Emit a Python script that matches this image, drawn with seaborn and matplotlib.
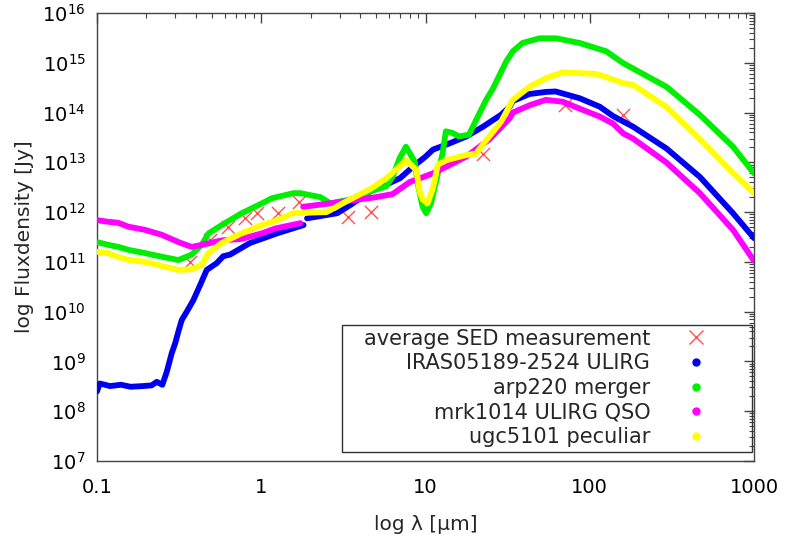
import numpy as np
import matplotlib
matplotlib.use("Agg")
import matplotlib.pyplot as plt
from matplotlib.lines import Line2D
from matplotlib.patches import Rectangle
from matplotlib.ticker import LogLocator, NullFormatter
import seaborn as sns

# wavelength [um] and flux density [Jy]
# nan marks a break between two data sets of the same template
avg_lam = [0.37, 0.49, 0.63, 0.80, 0.94, 1.27, 1.69, 3.36, 4.67, 22.4, 70.7, 160]
avg_flux = [1.0e11, 2.75e11, 5.1e11, 7.5e11, 9.5e11, 9.7e11, 1.6e12, 8.1e11, 1.0e12,
            1.5e13, 1.4e14, 9.0e13]

iras_lam = [0.100, 0.104, 0.12, 0.14, 0.16, 0.19, 0.215, 0.231, 0.25, 0.266, 0.285,
            0.299, 0.313, 0.328, 0.352, 0.386, 0.424, 0.466, 0.535, 0.587, 0.645,
            0.855, 1.25, 1.81, np.nan,
            1.9, 2.9, 3.5, 4.6, 6.0, 7.0, 8.4, 10.0, 11.1, 14.0, 17.7, 22.4, 28.8,
            32.5, 34.0, 43.0, 54.3, 62.0, 86.7, 115, 138.6, 183.5, 293, 468, 745, 1000]
iras_flux = [2.5e8, 3.6e8, 3.2e8, 3.4e8, 3.1e8, 3.2e8, 3.3e8, 3.9e8, 3.4e8, 6.2e8, 1.46e9,
             2.3e9, 4.0e9, 6.8e9, 1.0e10, 1.7e10, 3.4e10, 6.9e10, 9.4e10, 1.3e11, 1.4e11,
             2.4e11, 3.75e11, 5.5e11, np.nan,
             7.5e11, 9.5e11, 1.4e12, 2.6e12, 3.8e12, 4.8e12, 8.2e12, 1.3e13, 1.8e13,
             2.4e13, 3.3e13, 5.2e13, 9.0e13, 1.3e14, 1.7e14, 2.36e14, 2.6e14, 2.65e14,
             1.94e14, 1.31e14, 8.5e13, 5.2e13, 1.9e13, 5.1e12, 9.5e11, 3.0e11]

arp_lam = [0.100, 0.117, 0.135, 0.155, 0.196, 0.248, 0.313, 0.377, 0.434, 0.476, 0.575,
           0.76, 1.01, 1.16, 1.57, 1.73, 2.29, 2.63, 3.5, 4.6, 5.76, 6.3, 6.95, 7.6,
           8.6, 9.0, 9.6, 10.1, 10.8, 12.7, 13.3, 14.6, 16.0, 18.4, 20.3, 23.4, 25.7,
           31.0, 34.0, 39.0, 49.4, 62.5, 86.7, 126, 160, 293, 468, 745, 1000]
arp_flux = [2.5e11, 2.2e11, 2.0e11, 1.75e11, 1.5e11, 1.27e11, 1.09e11, 1.4e11, 2.2e11,
            3.7e11, 5.5e11, 9.5e11, 1.5e12, 1.9e12, 2.4e12, 2.4e12, 2.0e12, 1.5e12,
            1.8e12, 2.6e12, 3.3e12, 5.1e12, 1.2e13, 2.06e13, 1.03e13, 3.5e12, 1.28e12,
            9.5e11, 1.5e12, 1.5e13, 4.2e13, 3.9e13, 3.3e13, 3.6e13, 7.0e13, 1.8e14,
            3.0e14, 1.06e15, 1.7e15, 2.5e15, 3.1e15, 3.1e15, 2.5e15, 1.7e15, 9.8e14,
            3.3e14, 9.0e13, 2.06e13, 6.0e12]

mrk_lam = [0.100, 0.117, 0.135, 0.155, 0.196, 0.248, 0.313, 0.377, 0.434, 0.575, 0.76,
           1.01, 1.22, 1.73, np.nan,
           1.8, 2.63, 5.0, 6.3, 8.0, 11.1, 17.7, 24.5, 32.5, 34.0, 43.0, 54.0, 68.5,
           86.7, 115, 138.6, 160, 183.5, 293, 468, 745, 1000]
mrk_flux = [6.9e11, 6.4e11, 6.1e11, 5.1e11, 4.4e11, 3.5e11, 2.5e11, 2.0e11, 2.2e11,
            2.7e11, 2.9e11, 3.75e11, 4.7e11, 6.0e11, np.nan,
            1.28e12, 1.5e12, 2.0e12, 2.3e12, 4.0e12, 6.0e12, 1.3e13, 2.9e13, 7.6e13,
            1.0e14, 1.4e14, 1.8e14, 1.65e14, 1.2e14, 8.3e13, 6.0e13, 3.8e13, 3.0e13,
            9.9e12, 2.4e12, 4.4e11, 1.05e11]

ugc_lam = [0.100, 0.117, 0.135, 0.155, 0.196, 0.248, 0.313, 0.377, 0.434, 0.476, 0.575,
           0.76, 1.01, 1.22, 1.57, 2.5, 3.13, 4.6, 5.76, 7.6, 8.8, 9.2, 9.6, 10.3, 11.1,
           11.9, 13.3, 17.7, 20.3, 22.4, 28.8, 34.0, 43.0, 54.0, 68.5, 86.7, 107, 115,
           160, 183.5, 293, 468, 745, 1000]
ugc_flux = [1.6e11, 1.5e11, 1.25e11, 1.1e11, 1.0e11, 8.3e10, 6.9e10, 7.1e10, 8.7e10,
            1.5e11, 2.4e11, 3.75e11, 5.5e11, 6.7e11, 9.5e11, 1.0e12, 1.5e12, 2.9e12,
            4.7e12, 1.1e13, 7.0e12, 2.6e12, 1.8e12, 1.5e12, 3.0e12, 9.0e12, 1.1e13,
            1.4e13, 1.5e13, 2.3e13, 6.5e13, 1.8e14, 3.3e14, 4.9e14, 6.4e14, 6.2e14,
            6.0e14, 5.7e14, 3.9e14, 3.6e14, 1.3e14, 2.9e13, 6.1e12, 2.4e12]

labels = ["average SED measurement", "IRAS05189-2524 ULIRG", "arp220 merger",
          "mrk1014 ULIRG QSO", "ugc5101 peculiar"]
colors = ["#ff5050", "#0000f0", "#00ee00", "#ff00ff", "#ffff00"]


def split_nan(lam, flux):
    # cut a series into pieces wherever a nan break is stored
    lam = np.asarray(lam, dtype=float)
    flux = np.asarray(flux, dtype=float)
    pieces, start = [], 0
    for i in np.where(np.isnan(lam))[0].tolist() + [len(lam)]:
        pieces.append((lam[start:i], flux[start:i]))
        start = i + 1
    return pieces


sns.set_theme(style="white", font="DejaVu Sans")
plt.rcParams["font.family"] = ["DejaVu Sans"]

fig = plt.figure(figsize=(7.88, 5.48), dpi=100)
ax = fig.add_axes([97 / 788, 1 - 461 / 548, 657 / 788, 448 / 548])

sns.scatterplot(x=avg_lam, y=avg_flux, ax=ax, marker="x", s=90, color=colors[0],
                linewidth=1.0, zorder=2)

series = [(iras_lam, iras_flux), (arp_lam, arp_flux), (mrk_lam, mrk_flux), (ugc_lam, ugc_flux)]
for k, (lam, flux) in enumerate(series):
    for x, y in split_nan(lam, flux):
        sns.lineplot(x=x, y=y, ax=ax, color=colors[k + 1], lw=4.2, sort=False,
                     estimator=None, solid_capstyle="round", solid_joinstyle="round",
                     zorder=3 + k)

ax.set_xscale("log")
ax.set_yscale("log")
ax.set_xlim(0.1, 1000)
ax.set_ylim(1e7, 1e16)

ax.set_xticks([0.1, 1, 10, 100, 1000], labels=["0.1", "1", "10", "100", "1000"])
ax.xaxis.set_minor_locator(LogLocator(base=10, subs=np.arange(2, 10), numticks=100))
ax.xaxis.set_minor_formatter(NullFormatter())
ax.yaxis.set_major_locator(LogLocator(base=10, numticks=20))
ax.yaxis.set_minor_locator(LogLocator(base=10, subs=np.arange(2, 10), numticks=100))
ax.yaxis.set_minor_formatter(NullFormatter())

ax.tick_params(which="both", direction="in", top=True, right=True, colors="#444444",
               labelcolor="black", labelsize=14)
ax.tick_params(which="major", length=7.5, width=1)
ax.tick_params(which="minor", length=3.8, width=0.8)
ax.tick_params(axis="x", which="major", pad=12)
ax.tick_params(axis="y", which="major", pad=8)
for sp in ax.spines.values():
    sp.set_color("#444444")
    sp.set_linewidth(1)

ax.set_xlabel("log λ [µm]", fontsize=14.5, labelpad=13)
ax.set_ylabel("log Fluxdensity [Jy]", fontsize=14.5, labelpad=6)

# legend: text right-aligned, sample on the right, inside a plain box
handles = [Line2D([], [], ls="", marker="x", ms=10, mew=1.0, color=colors[0])]
handles += [Line2D([], [], ls="", marker="o", ms=5, color=c) for c in colors[1:]]
leg = ax.legend(handles=handles, labels=labels, loc="lower right",
                bbox_to_anchor=(0.950, 0.022), borderaxespad=0, borderpad=0.2,
                frameon=False, markerfirst=False, fontsize=15, handlelength=2.0,
                handletextpad=1.2, labelspacing=0.22)
leg.set_zorder(10)
ax.add_patch(Rectangle((0.373, 0.020), 0.624, 0.2836, transform=ax.transAxes,
                       fill=False, ec="#333333", lw=1, zorder=9))

fig.savefig("out.png", dpi=100)
